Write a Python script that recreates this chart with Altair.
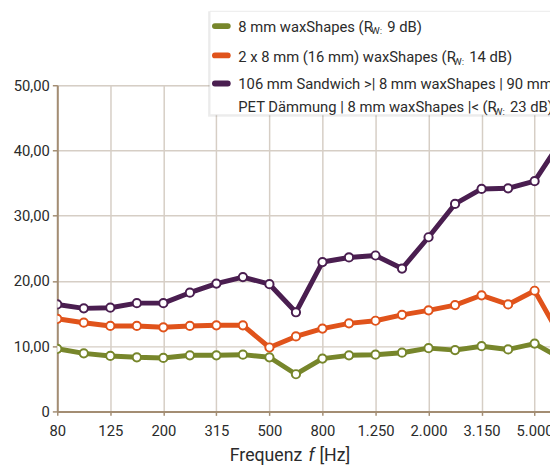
import altair as alt
import pandas as pd

# ---- data ----
freqs = ["80", "100", "125", "160", "200", "250", "315", "400", "500", "630",
         "800", "1.000", "1.250", "1.600", "2.000", "2.500", "3.150", "4.000",
         "5.000", "6.300"]
tick_labels = ["80", "", "125", "", "200", "", "315", "", "500", "",
               "800", "", "1.250", "", "2.000", "", "3.150", "", "5.000", ""]
green = [9.6, 8.9, 8.5, 8.3, 8.2, 8.6, 8.6, 8.7, 8.3, 5.7,
         8.1, 8.6, 8.7, 9.0, 9.7, 9.4, 10.0, 9.5, 10.4, 8.1]
orange = [14.2, 13.6, 13.1, 13.1, 12.9, 13.1, 13.2, 13.2, 9.8, 11.5,
          12.7, 13.5, 13.9, 14.8, 15.5, 16.3, 17.8, 16.4, 18.5, 11.3]
purple = [16.4, 15.8, 15.9, 16.6, 16.6, 18.2, 19.6, 20.6, 19.5, 15.2,
          22.9, 23.6, 23.9, 21.9, 26.7, 31.8, 34.1, 34.2, 35.3, 41.5]
series_names = ["green", "orange", "purple"]
series_colors = ["#77862b", "#e0531b", "#4a1e50"]

rows = []
for name, vals in zip(series_names, [green, orange, purple]):
    for i, v in enumerate(vals):
        rows.append({"idx": i, "freq": freqs[i], "value": v, "series": name})
df = pd.DataFrame(rows)

FONT = "Roboto"
TXT = "#2b2b2b"
AXIS = "#a38d73"
GRID = "#d6cec5"

label_arr = "[" + ",".join("'%s'" % s for s in tick_labels) + "]"

x = alt.X("idx:Q", scale=alt.Scale(domain=[0, 18.58], nice=False, zero=False),
          axis=alt.Axis(values=list(range(19)), labelExpr=label_arr + "[datum.value]",
                        title=None, grid=True, gridColor=GRID, gridWidth=1.5,
                        domainColor=AXIS, domainWidth=2, tickColor=AXIS, tickWidth=1.5,
                        tickSize=4, labelPadding=8, labelFont=FONT, labelFontSize=15,
                        labelColor=TXT, labelFlush=False, labelOverlap=False))
y = alt.Y("value:Q", scale=alt.Scale(domain=[0, 50], nice=False),
          axis=alt.Axis(values=[0, 10, 20, 30, 40, 50],
                        labelExpr="datum.value == 0 ? '0' : replace(format(datum.value, '.2f'), '.', ',')",
                        title=None, grid=True, gridColor=GRID, gridWidth=1.5,
                        domainColor=AXIS, domainWidth=2, tickColor=AXIS, tickWidth=1.5,
                        tickSize=5, labelPadding=3, labelFont=FONT, labelFontSize=15,
                        labelColor=TXT))
color = alt.Color("series:N", scale=alt.Scale(domain=series_names, range=series_colors), legend=None)

base = alt.Chart(df)
lines = base.mark_line(strokeWidth=5, clip=True, strokeJoin="round").encode(x=x, y=y, color=color)
points = base.mark_point(shape="circle", size=70, strokeWidth=2, opacity=1, fill="white",
                         fillOpacity=1, clip=True).encode(
    x="idx:Q", y="value:Q",
    stroke=alt.Stroke("series:N", scale=alt.Scale(domain=series_names, range=series_colors), legend=None))

one = pd.DataFrame({"a": [0]})
c1 = alt.Chart(one)

# legend box
shadow = c1.mark_rect(color="#000000", opacity=0.07).encode(
    x=alt.value(153), x2=alt.value(560), y=alt.value(-75), y2=alt.value(32))
box = c1.mark_rect(color="white", stroke="#ebebeb", strokeWidth=1).encode(
    x=alt.value(155), x2=alt.value(562), y=alt.value(-75), y2=alt.value(30))

layers = [lines, points, shadow, box]

sym_y = [-60, -30.3, -1.7]
for col, yy in zip(series_colors, sym_y):
    layers.append(c1.mark_rule(color=col, strokeWidth=6, strokeCap="round").encode(
        x=alt.value(160), x2=alt.value(173), y=alt.value(yy)))

def txt(t, xx, yy, size=15, style="normal"):
    return c1.mark_text(text=t, align="left", baseline="alphabetic", font=FONT,
                        fontSize=size, fontStyle=style, color=TXT).encode(
        x=alt.value(xx), y=alt.value(yy))

X0 = 183.7
PX = 15.0
SUBW = 11.5   # width of subscript "W:"
SP = 5.0      # space after subscript
# entry 1
w1 = 8.913 * PX
layers += [txt("8 mm waxShapes (R", X0, -54.5),
           txt("W:", X0 + w1 + 1, -51.5, size=10),
           txt("9 dB)", X0 + w1 + 1 + SUBW + SP, -54.5)]
# entry 2
w2 = 14.457 * PX
layers += [txt("2 x 8 mm (16 mm) waxShapes (R", X0, -23.3),
           txt("W:", X0 + w2 + 1, -20.3, size=10),
           txt("14 dB)", X0 + w2 + 1 + SUBW + SP, -23.3)]
# entry 3
w3 = 17.211 * PX
layers += [txt("106 mm Sandwich >| 8 mm waxShapes | 90 mm", X0, 4.3),
           txt("PET Dämmung | 8 mm waxShapes |< (R", X0, 27),
           txt("W:", X0 + w3 + 1, 30, size=10),
           txt("23 dB)", X0 + w3 + 1 + SUBW + SP, 27)]

# x axis title
layers += [txt("Frequenz", 175, 381, size=18),
           txt("f", 175 + 80, 381, size=18, style="italic"),
           txt("[Hz]", 175 + 80 + 11, 381, size=18)]

chart = alt.layer(*layers).properties(
    width=500, height=331,
    padding={"left": 50, "top": 75, "right": 0, "bottom": 52},
    autosize=alt.AutoSizeParams(type="none"),
).configure_view(stroke=None).configure(background="white")

chart.save("out.html", embed_options={"renderer": "svg", "actions": False})
